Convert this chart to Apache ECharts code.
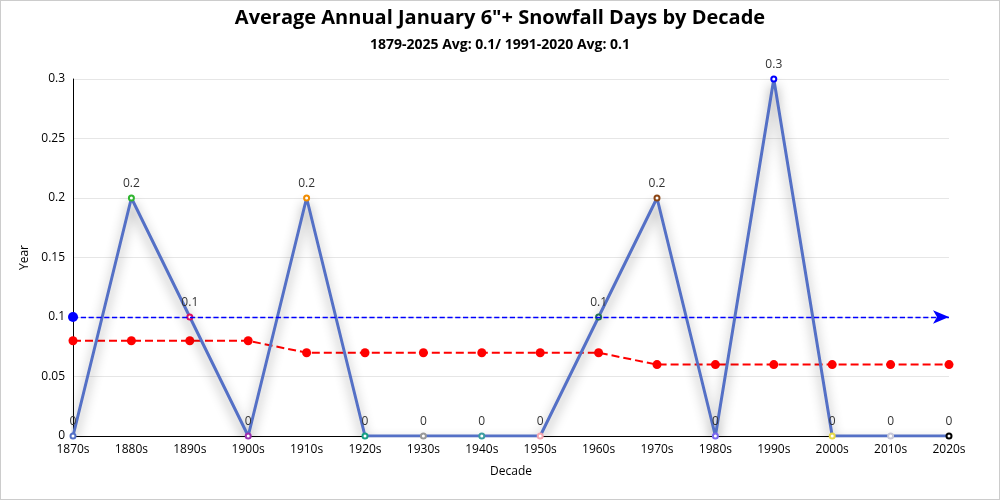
<!DOCTYPE html>
<html><head><meta charset="utf-8">
<script src="https://cdn.jsdelivr.net/npm/echarts@6/dist/echarts.min.js"></script>
<style>html,body{margin:0;padding:0;background:#fff}#c{width:998px;height:498px;border:1px solid #ccc}</style>
</head><body><div id="c"></div>
<script>
const decades = ['1870s','1880s','1890s','1900s','1910s','1920s','1930s','1940s','1950s','1960s','1970s','1980s','1990s','2000s','2010s','2020s'];
const values = [0,0.2,0.1,0,0.2,0,0,0,0,0.1,0.2,0,0.3,0,0,0];
const runningAvg = [0.08,0.08,0.08,0.08,0.07,0.07,0.07,0.07,0.07,0.07,0.06,0.06,0.06,0.06,0.06,0.06];
const pointColors = ['#5470c6','#2fb52f','#e0115f','#9b30b0','#f08c00','#16a085','#999999','#3b9ea0','#f4a6b0','#1f6f50','#8b4513','#7b68ee','#0000ff','#e6d84a','#c8c8d8','#000000'];
const normalAvg = 0.1;

const chart = echarts.init(document.getElementById('c'));
chart.setOption({
  textStyle: {fontFamily: '"Open Sans", sans-serif'},
  title: {
    text: 'Average Annual January 6"+ Snowfall Days by Decade',
    subtext: '1879-2025 Avg: 0.1/ 1991-2020 Avg: 0.1',
    left: 'center', top: 2,
    textStyle: {fontSize: 20, fontWeight: 'bold', color: '#000', fontFamily: '"Open Sans", sans-serif'},
    subtextStyle: {fontSize: 14, fontWeight: 'bold', color: '#000', fontFamily: '"Open Sans", sans-serif'},
    itemGap: 10
  },
  grid: {left: 72, right: 50, top: 78, bottom: 63},
  xAxis: {
    type: 'category', data: decades, boundaryGap: false,
    name: 'Decade', nameLocation: 'middle', nameGap: 30,
    nameTextStyle: {color: '#000', fontSize: 12},
    axisLine: {lineStyle: {color: '#000'}},
    axisTick: {show: false},
    axisLabel: {color: '#000', fontSize: 12}
  },
  yAxis: {
    type: 'value', min: 0, max: 0.3, interval: 0.05,
    name: 'Year', nameLocation: 'middle', nameGap: 32,
    nameTextStyle: {color: '#000', fontSize: 12},
    axisLine: {show: true, lineStyle: {color: '#000'}},
    axisLabel: {color: '#000', fontSize: 12},
    splitLine: {lineStyle: {color: '#e6e6e6'}}
  },
  series: [
    {
      type: 'line', data: values.map((v, i) => ({value: v, itemStyle: {color: pointColors[i], borderColor: pointColors[i]}})),
      symbol: 'emptyCircle', symbolSize: 5,
      lineStyle: {color: '#5470c6', width: 3, shadowColor: 'rgba(0,0,0,0.45)', shadowBlur: 12, shadowOffsetY: 6},
      label: {show: true, position: 'top', color: '#333', fontSize: 12},
      z: 3
    },
    {
      type: 'line', data: runningAvg,
      symbol: 'circle', symbolSize: 9,
      color: '#ff0000',
      itemStyle: {color: '#ff0000'},
      lineStyle: {color: '#ff0000', width: 2, type: 'dashed'},
      z: 2
    },
    {
      type: 'line', data: [], color: '#0000ff',
      markLine: {
        silent: true,
        symbol: ['circle', 'arrow'], symbolSize: [10, 16],
        label: {show: false},
        lineStyle: {color: '#0000ff', type: 'dashed', width: 1.3, opacity: 1},
        emphasis: {disabled: true},
        data: [{yAxis: normalAvg}]
      }
    }
  ]
});
</script></body></html>
